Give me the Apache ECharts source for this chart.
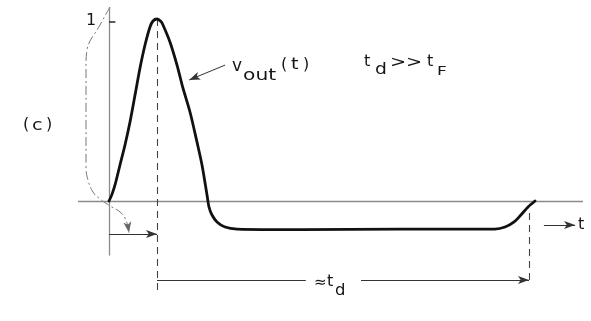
<!DOCTYPE html>
<html>
<head>
<meta charset="utf-8">
<script src="https://cdn.jsdelivr.net/npm/echarts@6/dist/echarts.min.js"></script>
<style>html,body{margin:0;padding:0;background:#fff}#c{width:591px;height:321px}</style>
</head>
<body>
<div id="c"></div>
<script>
// v_out(t): time in units of peak time, voltage normalised to peak = 1
var tVout = [0, 0.06, 0.125, 0.229, 0.333, 0.4375, 0.542, 0.646, 0.75, 0.854, 0.917, 1.0, 1.083, 1.125, 1.27, 1.417, 1.54, 1.6875, 1.833, 1.9375, 2.042, 2.083, 2.146, 2.25, 2.417, 2.667, 3.98, 6.06, 8.04, 8.25, 8.44, 8.58, 8.73, 8.875];
var vVout = [0, 0.035, 0.088, 0.198, 0.308, 0.434, 0.582, 0.731, 0.857, 0.956, 0.989, 1.0, 0.986, 0.967, 0.874, 0.747, 0.621, 0.489, 0.324, 0.198, 0.033, -0.033, -0.077, -0.115, -0.143, -0.154, -0.157, -0.154, -0.154, -0.143, -0.115, -0.077, -0.033, 0];
// sketched input pulse (dash-dot)
var tInput = [0.021, -0.1875, -0.458, -0.479, -0.479, -0.479, -0.4375, -0.333, -0.1875, 0.021, 0.229, 0.333, 0.396];
var vInput = [1.066, 0.967, 0.83, 0.736, 0.445, 0.187, 0.115, 0.049, 0.011, -0.027, -0.06, -0.093, -0.14];
// reference marks
var tPeak = 1;
var tDelay = 8.75;

var chart = echarts.init(document.getElementById('c'), null, {renderer: 'canvas'});
function pts(t, v) { return t.map(function (x, i) { return [x, v[i]]; }); }
function seg(a, b, style, arrow) {
  return [
    {coord: a, symbol: 'none'},
    {coord: b, symbol: arrow ? 'arrow' : 'none', symbolSize: [6, 11], lineStyle: style}
  ];
}
var dark = {color: '#333', width: 1, type: 'solid'};
var dash = {color: '#444', width: 1.1, type: [7, 5]};
var gray = {color: '#8a8a8a', width: 1.3, type: 'solid'};
var yDim = -0.434;

var font = '"DejaVu Sans", "Liberation Sans", sans-serif';
function txt(x, y, s, size, sx) {
  return {type: 'text', x: x, y: y, scaleX: sx || 1,
    style: {text: s, fill: '#161616', font: size + 'px ' + font, textVerticalAlign: 'middle'}};
}

chart.setOption({
  animation: false,
  backgroundColor: '#fff',
  grid: {left: 13, right: 2, top: 0.8, bottom: 1.7},
  xAxis: {type: 'value', min: -2, max: 10, show: false},
  yAxis: {type: 'value', min: -0.65, max: 1.1, show: false},
  series: [
    {
      type: 'line', data: pts(tInput, vInput), smooth: 0.4, symbol: 'none', silent: true,
      lineStyle: {color: '#777', width: 1, type: [9, 3, 2, 3]}, z: 2
    },
    {
      type: 'line', data: pts(tVout, vVout), smooth: 0.3, symbol: 'none', silent: true,
      lineStyle: {color: '#111', width: 2.8, join: 'round', cap: 'round'}, z: 5,
      markLine: {
        silent: true, animation: false, label: {show: false}, symbol: ['none', 'none'],
        data: [
          seg([-0.646, 0], [9.875, 0], gray),
          seg([0, -0.3], [0, 1.066], gray),
          seg([0, 0.984], [0.146, 0.984], {color: '#333', width: 1.6}),
          seg([tPeak, 1], [tPeak, -0.505], dash),
          seg([tDelay, -0.066], [tDelay, -0.45], dash),
          seg([0, -0.363], [0, -0.66], dash),
          seg([tPeak, yDim], [4.1, yDim], dark),
          seg([5.25, yDim], [tDelay, yDim], dark, true),
          seg([0, -0.181], [tPeak, -0.181], dark, true),
          seg([9.06, -0.132], [9.71, -0.132], dark, true),
          seg([2.42, 0.747], [1.67, 0.665], dark, true),
          seg([0.396, -0.14], [0.417, -0.175], {color: '#666', width: 1}, true)
        ]
      }
    }
  ],
  graphic: [
    txt(23, 125, '(', 16), txt(32, 126, 'c', 16, 1.2), txt(46, 125, ')', 16),
    txt(86, 21, '1', 16),
    txt(232, 67, 'v', 17),
    txt(243, 76, 'out', 15, 1.35),
    txt(281, 65, '(', 16), txt(291, 65, 't', 16, 1.2), txt(303, 65, ')', 16),
    txt(364, 62, 't', 16),
    txt(375, 70, 'd', 15, 1.25),
    txt(390, 63, '>>', 16, 1.2),
    txt(427, 62, 't', 16),
    txt(437, 72, 'F', 13, 1.3),
    txt(314, 283, '≈', 15),
    txt(327, 282, 't', 16),
    txt(335, 291, 'd', 15, 1.1),
    txt(578, 225, 't', 16)
  ]
});
</script>
</body>
</html>
